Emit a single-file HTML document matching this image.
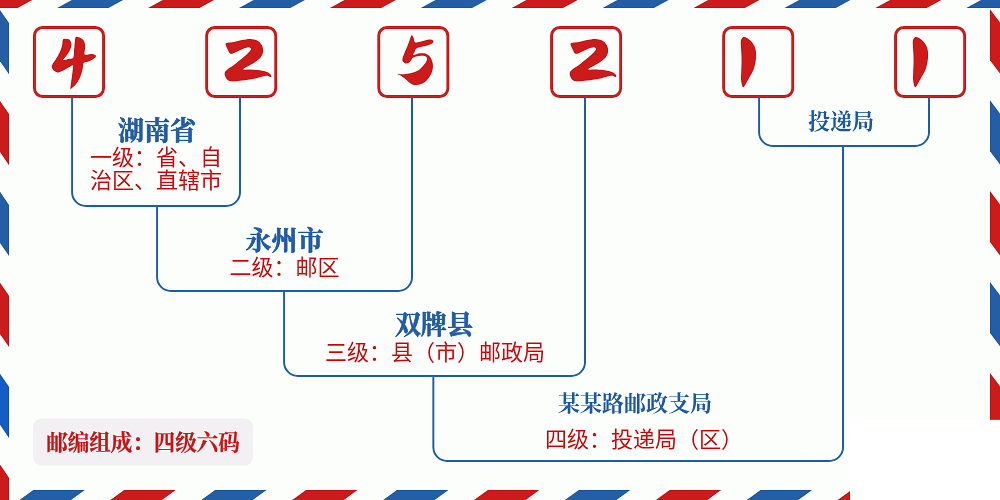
<!DOCTYPE html><html lang="zh"><head><meta charset="utf-8"><title>425211</title><style>html,body{margin:0;padding:0;background:#fcfefc;font-family:"Liberation Sans",sans-serif}svg{display:block}</style></head><body><svg width="1000" height="500" viewBox="0 0 1000 500"><defs><filter id="sh" x="0" y="0" width="1000" height="500" filterUnits="userSpaceOnUse" color-interpolation-filters="sRGB"><feConvolveMatrix order="3" kernelMatrix="0 -0.08 0 -0.08 1.32 -0.08 0 -0.08 0" edgeMode="duplicate" preserveAlpha="true"/></filter></defs><g filter="url(#sh)"><rect width="1000" height="500" fill="#fcfefc"/><polygon points="-33.7,8 -19.1,0 32.2,0 17.6,8" fill="#cb1b1b"/>
<polygon points="57.21,8 71.81,0 123.11,0 108.51,8" fill="#245fa5"/>
<polygon points="148.12,8 162.72,0 214.02,0 199.42,8" fill="#cb1b1b"/>
<polygon points="239.03,8 253.63,0 304.93,0 290.33,8" fill="#245fa5"/>
<polygon points="329.94,8 344.54,0 395.84,0 381.24,8" fill="#cb1b1b"/>
<polygon points="420.85,8 435.45,0 486.75,0 472.15,8" fill="#245fa5"/>
<polygon points="511.75,8 526.35,0 577.65,0 563.05,8" fill="#cb1b1b"/>
<polygon points="602.66,8 617.26,0 668.56,0 653.96,8" fill="#245fa5"/>
<polygon points="693.57,8 708.17,0 759.47,0 744.87,8" fill="#cb1b1b"/>
<polygon points="784.48,8 799.08,0 850.38,0 835.78,8" fill="#245fa5"/>
<polygon points="875.39,8 889.99,0 941.29,0 926.69,8" fill="#cb1b1b"/>
<polygon points="966.3,8 980.9,0 1032.2,0 1017.6,8" fill="#245fa5"/>
<polygon points="-57.61,490 -6.11,490 -19.91,500 -71.41,500" fill="#cb1b1b"/>
<polygon points="33.3,490 84.8,490 71,500 19.5,500" fill="#245fa5"/>
<polygon points="124.21,490 175.71,490 161.91,500 110.41,500" fill="#cb1b1b"/>
<polygon points="215.12,490 266.62,490 252.82,500 201.32,500" fill="#245fa5"/>
<polygon points="306.03,490 357.53,490 343.73,500 292.23,500" fill="#cb1b1b"/>
<polygon points="396.94,490 448.44,490 434.64,500 383.14,500" fill="#245fa5"/>
<polygon points="487.85,490 539.35,490 525.55,500 474.05,500" fill="#cb1b1b"/>
<polygon points="578.75,490 630.25,490 616.45,500 564.95,500" fill="#245fa5"/>
<polygon points="669.66,490 721.16,490 707.36,500 655.86,500" fill="#cb1b1b"/>
<polygon points="760.57,490 812.07,490 798.27,500 746.77,500" fill="#245fa5"/>
<polygon points="851.48,490 902.98,490 889.18,500 837.68,500" fill="#cb1b1b"/>
<polygon points="942.39,490 993.89,490 980.09,500 928.59,500" fill="#245fa5"/>
<polygon points="0,-80.91 9,-67.81 9,-16.61 0,-29.71" fill="#cb1b1b"/>
<polygon points="0,10 9,23.1 9,74.3 0,61.2" fill="#245fa5"/>
<polygon points="0,100.91 9,114.01 9,165.21 0,152.11" fill="#cb1b1b"/>
<polygon points="0,191.82 9,204.92 9,256.12 0,243.02" fill="#245fa5"/>
<polygon points="0,282.73 9,295.83 9,347.03 0,333.93" fill="#cb1b1b"/>
<polygon points="0,373.64 9,386.74 9,437.94 0,424.84" fill="#155cc4"/>
<polygon points="0,464.55 9,477.65 9,528.85 0,515.75" fill="#cb1b1b"/>
<polygon points="990,-81.61 1000,-68.31 1000,-17.31 990,-30.61" fill="#245fa5"/>
<polygon points="990,9.3 1000,22.6 1000,73.6 990,60.3" fill="#cb1b1b"/>
<polygon points="990,100.21 1000,113.51 1000,164.51 990,151.21" fill="#245fa5"/>
<polygon points="990,191.12 1000,204.42 1000,255.42 990,242.12" fill="#cb1b1b"/>
<polygon points="990,282.03 1000,295.33 1000,346.33 990,333.03" fill="#245fa5"/>
<polygon points="990,372.94 1000,386.24 1000,437.24 990,423.94" fill="#cb1b1b"/>
<polygon points="990,463.85 1000,477.15 1000,528.14 990,514.85" fill="#245fa5"/>
<path d="M72.1 97V192.2A13.7 13.7 0 0 0 85.8 205.9H226.3A13.7 13.7 0 0 0 240 192.2V97" fill="none" stroke="#2c68ae" stroke-width="2.0"/>
<path d="M759.1 97V132.2A13.7 13.7 0 0 0 772.8 145.9H915.3A13.7 13.7 0 0 0 929 132.2V97" fill="none" stroke="#2c68ae" stroke-width="2.0"/>
<path d="M157.1 205.9V277.2A13.7 13.7 0 0 0 170.8 290.9H398.3A13.7 13.7 0 0 0 412 277.2V97" fill="none" stroke="#2c68ae" stroke-width="2.0"/>
<path d="M284.1 290.9V362.2A13.7 13.7 0 0 0 297.8 375.9H571.3A13.7 13.7 0 0 0 585 362.2V97" fill="none" stroke="#2c68ae" stroke-width="2.0"/>
<path d="M433.35 375.9V447.2A13.7 13.7 0 0 0 447.05 460.9H829.3A13.7 13.7 0 0 0 843 447.2V145.9" fill="none" stroke="#2c68ae" stroke-width="2.0"/>
<rect x="34.45" y="27.45" width="69.1" height="69.1" rx="8.2" fill="#fcfefc" stroke="#ce2020" stroke-width="2.9"/>
<rect x="206.65" y="27.45" width="69.1" height="69.1" rx="8.2" fill="#fcfefc" stroke="#ce2020" stroke-width="2.9"/>
<rect x="378.75" y="27.45" width="69.1" height="69.1" rx="8.2" fill="#fcfefc" stroke="#ce2020" stroke-width="2.9"/>
<rect x="551.55" y="27.45" width="69.1" height="69.1" rx="8.2" fill="#fcfefc" stroke="#ce2020" stroke-width="2.9"/>
<rect x="723.65" y="27.45" width="69.1" height="69.1" rx="8.2" fill="#fcfefc" stroke="#ce2020" stroke-width="2.9"/>
<rect x="895.55" y="27.45" width="69.1" height="69.1" rx="8.2" fill="#fcfefc" stroke="#ce2020" stroke-width="2.9"/>
<path d="M63.12 39.28C64.08 38.13 66.61 38.96 67.76 39.12C68.91 39.28 69.39 39.49 70 40.24C70.61 40.99 71.25 42.43 71.44 43.6C71.63 44.77 71.49 45.95 71.12 47.28C70.75 48.61 70.03 50.13 69.2 51.6C68.37 53.07 67.17 54.67 66.16 56.08C65.15 57.49 62.75 59.57 63.12 60.08C63.49 60.59 66.72 59.49 68.4 59.12C70.08 58.75 72.27 59.23 73.2 57.84C74.13 56.45 73.73 53.31 74 50.8C74.27 48.29 74.59 44.88 74.8 42.8C75.01 40.72 75.04 39.33 75.28 38.32C75.52 37.31 75.63 36.91 76.24 36.72C76.85 36.53 77.97 36.83 78.96 37.2C79.95 37.57 81.25 38.16 82.16 38.96C83.07 39.76 83.89 40.56 84.4 42C84.91 43.44 85.15 45.52 85.2 47.6C85.25 49.68 83.79 53.41 84.72 54.48C85.65 55.55 89.12 53.95 90.8 54C92.48 54.05 93.95 54.4 94.8 54.8C95.65 55.2 96.05 55.79 95.92 56.4C95.79 57.01 95.12 57.68 94 58.48C92.88 59.28 90.93 60.45 89.2 61.2C87.47 61.95 84.67 61.76 83.6 62.96C82.53 64.16 83.33 66.16 82.8 68.4C82.27 70.64 81.47 73.87 80.4 76.4C79.33 78.93 77.81 81.65 76.4 83.6C74.99 85.55 72.91 87.2 71.92 88.08C70.93 88.96 70.67 89.49 70.48 88.88C70.29 88.27 70.56 86.48 70.8 84.4C71.04 82.32 71.57 79.07 71.92 76.4C72.27 73.73 72.72 70.27 72.88 68.4C73.04 66.53 73.63 65.33 72.88 65.2C72.13 65.07 70.08 66.67 68.4 67.6C66.72 68.53 64.53 70 62.8 70.8C61.07 71.6 59.47 72.4 58 72.4C56.53 72.4 55.01 71.6 54 70.8C52.99 70 52.19 68.67 51.92 67.6C51.65 66.53 51.79 65.73 52.4 64.4C53.01 63.07 54.4 61.6 55.6 59.6C56.8 57.6 58.53 54.67 59.6 52.4C60.67 50.13 61.41 48.19 62 46C62.59 43.81 62.16 40.43 63.12 39.28Z" fill="#cb1b1b"/>
<path d="M225.52 44.24C225.52 43.17 226.19 43.17 227.6 42.8C229.01 42.43 231.6 42.45 234 42C236.4 41.55 239.28 40.59 242 40.08C244.72 39.57 247.79 38.88 250.32 38.96C252.85 39.04 255.28 39.49 257.2 40.56C259.12 41.63 260.85 43.52 261.84 45.36C262.83 47.2 263.33 49.57 263.12 51.6C262.91 53.63 261.95 55.73 260.56 57.52C259.17 59.31 256.69 60.99 254.8 62.32C252.91 63.65 251.15 64.35 249.2 65.52C247.25 66.69 242.99 68.69 243.12 69.36C243.25 70.03 247.52 69.41 250 69.52C252.48 69.63 255.65 69.73 258 70C260.35 70.27 262.21 70.59 264.08 71.12C265.95 71.65 268 72.43 269.2 73.2C270.4 73.97 271.07 75.12 271.28 75.76C271.49 76.4 271.15 77.04 270.48 77.04C269.81 77.04 268.61 75.87 267.28 75.76C265.95 75.65 264.69 75.92 262.48 76.4C260.27 76.88 257.41 77.95 254 78.64C250.59 79.33 245.33 80.11 242 80.56C238.67 81.01 236.27 81.39 234 81.36C231.73 81.33 229.79 81.09 228.4 80.4C227.01 79.71 226.29 78.45 225.68 77.2C225.07 75.95 224.4 74.21 224.72 72.88C225.04 71.55 226.05 70.53 227.6 69.2C229.15 67.87 231.6 66.67 234 64.88C236.4 63.09 239.6 60.51 242 58.48C244.4 56.45 246.91 54.27 248.4 52.72C249.89 51.17 250.83 50.11 250.96 49.2C251.09 48.29 250.16 47.47 249.2 47.28C248.24 47.09 246.93 47.49 245.2 48.08C243.47 48.67 240.75 49.95 238.8 50.8C236.85 51.65 234.99 52.75 233.52 53.2C232.05 53.65 230.99 54.19 230 53.52C229.01 52.85 228.35 50.75 227.6 49.2C226.85 47.65 225.52 45.31 225.52 44.24Z" fill="#cb1b1b"/>
<path d="M411.6 35.28C412.29 34.88 413.07 36.8 413.68 38C414.29 39.2 413.89 41.95 415.28 42.48C416.67 43.01 419.68 41.68 422 41.2C424.32 40.72 427.39 39.73 429.2 39.6C431.01 39.47 432.21 39.92 432.88 40.4C433.55 40.88 433.68 41.81 433.2 42.48C432.72 43.15 431.6 43.76 430 44.4C428.4 45.04 425.87 45.65 423.6 46.32C421.33 46.99 417.87 47.52 416.4 48.4C414.93 49.28 415.28 50.48 414.8 51.6C414.32 52.72 412.67 54.83 413.52 55.12C414.37 55.41 417.84 53.6 419.92 53.36C422 53.12 424.24 52.99 426 53.68C427.76 54.37 429.33 55.73 430.48 57.52C431.63 59.31 432.61 62.05 432.88 64.4C433.15 66.75 432.69 69.47 432.08 71.6C431.47 73.73 430.4 75.47 429.2 77.2C428 78.93 426.48 80.77 424.88 82C423.28 83.23 421.41 84.08 419.6 84.56C417.79 85.04 415.73 85.23 414 84.88C412.27 84.53 410.67 83.49 409.2 82.48C407.73 81.47 406.53 79.89 405.2 78.8C403.87 77.71 402.48 76.67 401.2 75.92C399.92 75.17 396.99 74.61 397.52 74.32C398.05 74.03 402.24 74.35 404.4 74.16C406.56 73.97 408.29 73.76 410.48 73.2C412.67 72.64 415.55 71.87 417.52 70.8C419.49 69.73 420.91 68.27 422.32 66.8C423.73 65.33 425.2 63.39 426 62C426.8 60.61 427.31 59.47 427.12 58.48C426.93 57.49 426.21 56.51 424.88 56.08C423.55 55.65 421.07 55.68 419.12 55.92C417.17 56.16 414.8 56.45 413.2 57.52C411.6 58.59 410.77 61.33 409.52 62.32C408.27 63.31 406.8 63.63 405.68 63.44C404.56 63.25 403.33 62.03 402.8 61.2C402.27 60.37 402.27 59.68 402.48 58.48C402.69 57.28 403.36 55.81 404.08 54C404.8 52.19 405.89 49.87 406.8 47.6C407.71 45.33 408.72 42.45 409.52 40.4C410.32 38.35 410.91 35.68 411.6 35.28Z" fill="#cb1b1b"/>
<path d="M570.52 44.24C570.52 43.17 571.19 43.17 572.6 42.8C574.01 42.43 576.6 42.45 579 42C581.4 41.55 584.28 40.59 587 40.08C589.72 39.57 592.79 38.88 595.32 38.96C597.85 39.04 600.28 39.49 602.2 40.56C604.12 41.63 605.85 43.52 606.84 45.36C607.83 47.2 608.33 49.57 608.12 51.6C607.91 53.63 606.95 55.73 605.56 57.52C604.17 59.31 601.69 60.99 599.8 62.32C597.91 63.65 596.15 64.35 594.2 65.52C592.25 66.69 587.99 68.69 588.12 69.36C588.25 70.03 592.52 69.41 595 69.52C597.48 69.63 600.65 69.73 603 70C605.35 70.27 607.21 70.59 609.08 71.12C610.95 71.65 613 72.43 614.2 73.2C615.4 73.97 616.07 75.12 616.28 75.76C616.49 76.4 616.15 77.04 615.48 77.04C614.81 77.04 613.61 75.87 612.28 75.76C610.95 75.65 609.69 75.92 607.48 76.4C605.27 76.88 602.41 77.95 599 78.64C595.59 79.33 590.33 80.11 587 80.56C583.67 81.01 581.27 81.39 579 81.36C576.73 81.33 574.79 81.09 573.4 80.4C572.01 79.71 571.29 78.45 570.68 77.2C570.07 75.95 569.4 74.21 569.72 72.88C570.04 71.55 571.05 70.53 572.6 69.2C574.15 67.87 576.6 66.67 579 64.88C581.4 63.09 584.6 60.51 587 58.48C589.4 56.45 591.91 54.27 593.4 52.72C594.89 51.17 595.83 50.11 595.96 49.2C596.09 48.29 595.16 47.47 594.2 47.28C593.24 47.09 591.93 47.49 590.2 48.08C588.47 48.67 585.75 49.95 583.8 50.8C581.85 51.65 579.99 52.75 578.52 53.2C577.05 53.65 575.99 54.19 575 53.52C574.01 52.85 573.35 50.75 572.6 49.2C571.85 47.65 570.52 45.31 570.52 44.24Z" fill="#cb1b1b"/>
<path d="M743 37.2C744.01 36.8 745.53 37.2 747 38C748.47 38.8 750.47 40.4 751.8 42C753.13 43.6 754.28 45.6 755 47.6C755.72 49.6 756.04 51.6 756.12 54C756.2 56.4 755.93 59.33 755.48 62C755.03 64.67 754.41 67.47 753.4 70C752.39 72.53 750.73 74.8 749.4 77.2C748.07 79.6 746.41 82.72 745.4 84.4C744.39 86.08 743.88 87.15 743.32 87.28C742.76 87.41 742.41 86.48 742.04 85.2C741.67 83.92 741.21 81.87 741.08 79.6C740.95 77.33 741.16 74.53 741.24 71.6C741.32 68.67 741.53 64.93 741.56 62C741.59 59.07 741.51 56.67 741.4 54C741.29 51.33 741 48.27 740.92 46C740.84 43.73 740.57 41.87 740.92 40.4C741.27 38.93 741.99 37.6 743 37.2Z" fill="#cb1b1b"/>
<path d="M915 37.2C916.01 36.8 917.53 37.2 919 38C920.47 38.8 922.47 40.4 923.8 42C925.13 43.6 926.28 45.6 927 47.6C927.72 49.6 928.04 51.6 928.12 54C928.2 56.4 927.93 59.33 927.48 62C927.03 64.67 926.41 67.47 925.4 70C924.39 72.53 922.73 74.8 921.4 77.2C920.07 79.6 918.41 82.72 917.4 84.4C916.39 86.08 915.88 87.15 915.32 87.28C914.76 87.41 914.41 86.48 914.04 85.2C913.67 83.92 913.21 81.87 913.08 79.6C912.95 77.33 913.16 74.53 913.24 71.6C913.32 68.67 913.53 64.93 913.56 62C913.59 59.07 913.51 56.67 913.4 54C913.29 51.33 913 48.27 912.92 46C912.84 43.73 912.57 41.87 912.92 40.4C913.27 38.93 913.99 37.6 915 37.2Z" fill="#cb1b1b"/>
<rect x="33" y="418.2" width="220" height="47.6" rx="9" fill="#f3f0f4"/>
<text x="157" y="140" text-anchor="middle" font-family="&quot;Liberation Serif&quot;, &quot;Noto Serif CJK SC&quot;, serif" font-weight="bold" font-size="26" fill="#245fa5" stroke="#245fa5" stroke-width="0.6" stroke-linejoin="round">湖南省</text>
<text x="156" y="165" text-anchor="middle" font-family="&quot;Liberation Sans&quot;, &quot;Noto Sans CJK SC&quot;, sans-serif" font-size="22" fill="#cb1b1b">一级：省、自</text>
<text x="156" y="188" text-anchor="middle" font-family="&quot;Liberation Sans&quot;, &quot;Noto Sans CJK SC&quot;, sans-serif" font-size="22" fill="#cb1b1b">治区、直辖市</text>
<text x="284.5" y="250" text-anchor="middle" font-family="&quot;Liberation Serif&quot;, &quot;Noto Serif CJK SC&quot;, serif" font-weight="bold" font-size="26" fill="#245fa5" stroke="#245fa5" stroke-width="0.6" stroke-linejoin="round">永州市</text>
<text x="284.5" y="275" text-anchor="middle" font-family="&quot;Liberation Sans&quot;, &quot;Noto Sans CJK SC&quot;, sans-serif" font-size="22" fill="#cb1b1b">二级：邮区</text>
<text x="434" y="334" text-anchor="middle" font-family="&quot;Liberation Serif&quot;, &quot;Noto Serif CJK SC&quot;, serif" font-weight="bold" font-size="26" fill="#245fa5" stroke="#245fa5" stroke-width="0.6" stroke-linejoin="round">双牌县</text>
<text x="435" y="360" text-anchor="middle" font-family="&quot;Liberation Sans&quot;, &quot;Noto Sans CJK SC&quot;, sans-serif" font-size="22" fill="#cb1b1b">三级：县（市）邮政局</text>
<text x="635" y="411" text-anchor="middle" font-family="&quot;Liberation Serif&quot;, &quot;Noto Serif CJK SC&quot;, serif" font-weight="bold" font-size="22" fill="#245fa5">某某路邮政支局</text>
<text x="644" y="447" text-anchor="middle" font-family="&quot;Liberation Sans&quot;, &quot;Noto Sans CJK SC&quot;, sans-serif" font-size="22" fill="#cb1b1b">四级：投递局（区）</text>
<text x="841" y="129" text-anchor="middle" font-family="&quot;Liberation Serif&quot;, &quot;Noto Serif CJK SC&quot;, serif" font-weight="bold" font-size="22" fill="#245fa5">投递局</text>
<text x="143" y="450" text-anchor="middle" font-family="&quot;Liberation Serif&quot;, &quot;Noto Serif CJK SC&quot;, serif" font-weight="bold" font-size="21.5" fill="#cb1b1b" stroke="#cb1b1b" stroke-width="0.25" stroke-linejoin="round">邮编组成：四级六码</text>
<rect x="850" y="419.8" width="150" height="81" fill="#ffffff"/></g></svg></body></html>
